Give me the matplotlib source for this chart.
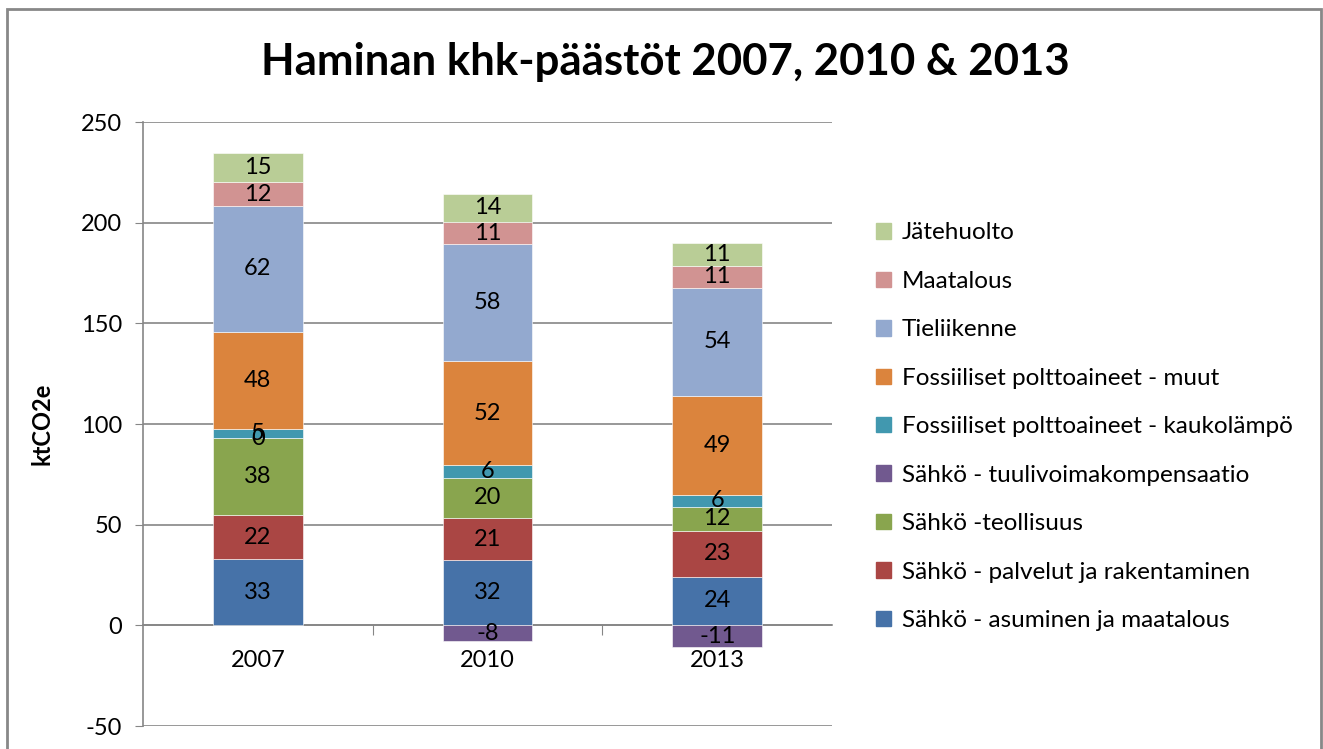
import matplotlib.pyplot as plt
from matplotlib.patches import Rectangle, Patch
import numpy as np

plt.rcParams['font.family'] = ['Lato', 'DejaVu Sans']
plt.rcParams['axes.unicode_minus'] = False

# data
vuodet = ['2007', '2010', '2013']
sarjat = [
    'Sähkö - asuminen ja maatalous',
    'Sähkö - palvelut ja rakentaminen',
    'Sähkö -teollisuus',
    'Sähkö - tuulivoimakompensaatio',
    'Fossiiliset polttoaineet - kaukolämpö',
    'Fossiiliset polttoaineet - muut',
    'Tieliikenne',
    'Maatalous',
    'Jätehuolto',
]
asuminen = [32.9, 32.3, 24.2]
palvelut = [21.9, 21.0, 22.8]
teollisuus = [38.2, 20.1, 11.9]
tuulivoima = [0.0, -8.0, -10.8]
kaukolampo = [4.6, 6.0, 5.9]
muut = [48.3, 52.0, 49.0]
tieliikenne = [62.3, 57.8, 53.9]
maatalous = [12.0, 11.2, 10.9]
jatehuolto = [14.6, 13.8, 11.1]

arvot = [asuminen, palvelut, teollisuus, tuulivoima, kaukolampo,
         muut, tieliikenne, maatalous, jatehuolto]
varit = ['#4672A8', '#AA4644', '#89A54E', '#71598F', '#4198AF',
         '#DB843D', '#93A9CF', '#D19392', '#B9CD96']

fig = plt.figure(figsize=(13.23, 7.49), dpi=100)
ax = fig.add_axes([0.1081, 0.0307, 0.5208, 0.8064])

x = np.arange(len(vuodet))
pos = np.zeros(len(vuodet))
neg = np.zeros(len(vuodet))
for nimi, vals, vari in zip(sarjat, arvot, varit):
    vals = np.array(vals)
    pohja = np.where(vals >= 0, pos, neg)
    ax.bar(x, vals, bottom=pohja, width=0.39, color=vari,
           edgecolor='white', linewidth=0.4, label=nimi, zorder=3)
    for xi, v, b in zip(x, vals, pohja):
        ax.text(xi, b + v / 2, f"{v:.0f}", ha='center', va='center',
                fontsize=17, color='black', zorder=4)
    pos = np.where(vals >= 0, pos + vals, pos)
    neg = np.where(vals < 0, neg + vals, neg)

ax.set_xlim(-0.5, 2.5)
ax.set_ylim(-50, 250)
ax.set_yticks(range(-50, 251, 50))
ax.tick_params(axis='y', labelsize=17, length=6, color='#868686', pad=9)
ax.yaxis.grid(True, color='#868686', linewidth=1.2, zorder=0)
ax.set_axisbelow(True)

# x-akseli nollassa
ax.spines['bottom'].set_position(('data', 0))
ax.spines['bottom'].set_color('#868686')
ax.spines['bottom'].set_linewidth(1.2)
ax.spines['left'].set_color('#868686')
ax.spines['left'].set_linewidth(1.2)
ax.spines['top'].set_visible(False)
ax.spines['right'].set_visible(False)
ax.set_xticks([0.5, 1.5], minor=False)
ax.set_xticklabels([])
ax.tick_params(axis='x', length=7, color='#868686', direction='out')
for xi, v in zip(x, vuodet):
    ax.text(xi, -17.5, v, ha='center', va='center', fontsize=17)

ax.set_ylabel('ktCO2e', fontsize=17, fontweight='bold', labelpad=20)

fig.text(0.5026, 0.917, 'Haminan khk-päästöt 2007, 2010 & 2013',
         ha='center', va='center', fontsize=31.5, fontweight='bold')

kahvat = [Patch(color=c) for c in varit][::-1]
fig.legend(kahvat, sarjat[::-1], loc='upper left',
           bbox_to_anchor=(0.655, 0.716), frameon=False, fontsize=17.5,
           handlelength=0.6, handleheight=0.6, handletextpad=0.45,
           labelspacing=1.13, borderaxespad=0)

fig.patches.append(Rectangle((7 / 1323, -0.05), 1314 / 1323, 1.05 - 9 / 749,
                             transform=fig.transFigure, fill=False,
                             edgecolor='#888888', linewidth=2))

fig.savefig('out.png', dpi=100)
